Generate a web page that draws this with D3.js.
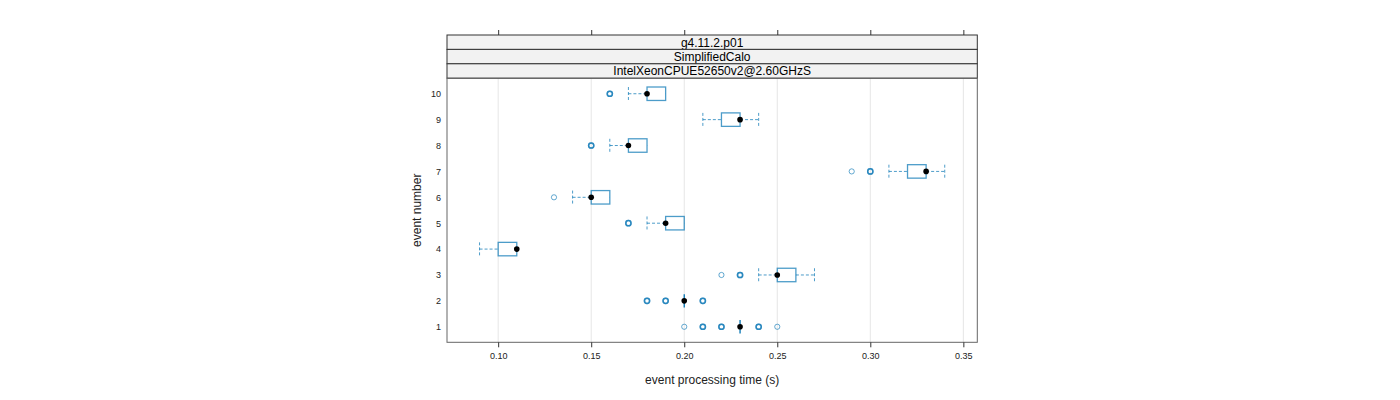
<!DOCTYPE html>
<html><head><meta charset="utf-8">
<script src="https://cdn.jsdelivr.net/npm/d3@7"></script>
<style>body{margin:0;background:#fff;} svg{display:block;font-family:"Liberation Sans",Arial,sans-serif;}</style>
</head><body><svg id="c" width="1400" height="400"></svg>
<script>
const events = [1,2,3,4,5,6,7,8,9,10];
const lowerWhisker = [0.23,0.20,0.24,0.09,0.18,0.14,0.31,0.16,0.21,0.17];
const q1 =           [0.23,0.20,0.25,0.10,0.19,0.15,0.32,0.17,0.22,0.18];
const medians =      [0.23,0.20,0.25,0.11,0.19,0.15,0.33,0.17,0.23,0.18];
const q3 =           [0.23,0.20,0.26,0.11,0.20,0.16,0.33,0.18,0.23,0.19];
const upperWhisker = [0.23,0.20,0.27,0.11,0.20,0.16,0.34,0.18,0.24,0.19];
// outliers: [value, number of overlapping observations]
const outliers = [
  [[0.20,1],[0.21,2],[0.22,2],[0.24,2],[0.25,1]],
  [[0.18,2],[0.19,2],[0.21,2]],
  [[0.22,1],[0.23,2]],
  [],
  [[0.17,2]],
  [[0.13,1]],
  [[0.29,1],[0.30,2]],
  [[0.15,2]],
  [],
  [[0.16,2]]
];
const xTicks = [0.10,0.15,0.20,0.25,0.30,0.35];
const stripLabels = ["g4.11.2.p01","SimplifiedCalo","IntelXeonCPUE52650v2@2.60GHzS"];
const xTitle = "event processing time (s)";
const yTitle = "event number";

const svg = d3.select("#c");
const L = 447, R = 977.3, T = 78.2, B = 342.3, stripTop = 35;
const stripH = (T - stripTop) / stripLabels.length;
const x = d3.scaleLinear().domain([0.0725, 0.3575]).range([L, R]);
const y = d3.scaleLinear().domain([0.4, 10.6]).range([B, T]);
const unit = (B - T) / 10.2;
const bh = unit * 0.52;
const col = "#0072B2";

// grid
svg.append("g").selectAll("line").data(xTicks).join("line")
  .attr("x1", d => x(d)).attr("x2", d => x(d)).attr("y1", T).attr("y2", B)
  .attr("stroke", "#e6e6e6").attr("stroke-width", 1);

// strips
stripLabels.forEach((s, i) => {
  const yy = stripTop + i * stripH;
  svg.append("rect").attr("x", L).attr("y", yy).attr("width", R - L).attr("height", stripH)
    .attr("fill", "#f2f2f2").attr("stroke", "#333").attr("stroke-width", 1);
  svg.append("text").attr("x", (L + R) / 2).attr("y", yy + stripH / 2 + 4.3)
    .attr("text-anchor", "middle").attr("font-size", 12).attr("fill", "#000").text(s);
});

// panel border
svg.append("rect").attr("x", L).attr("y", T).attr("width", R - L).attr("height", B - T)
  .attr("fill", "none").attr("stroke", "#666").attr("stroke-width", 1);

// bottom axis
const bx = d3.axisBottom(x).tickValues(xTicks).tickFormat(d3.format(".2f")).tickSize(5).tickPadding(5);
const gb = svg.append("g").attr("transform", `translate(0,${B})`).call(bx);
gb.select(".domain").remove();
gb.selectAll("line").attr("stroke", "#333");
gb.selectAll("text").attr("font-size", 9).attr("fill", "#222").attr("font-family", "Liberation Sans, Arial, sans-serif");

// top ticks
const tx = d3.axisTop(x).tickValues(xTicks).tickFormat("").tickSize(5);
const gt = svg.append("g").attr("transform", `translate(0,${stripTop})`).call(tx);
gt.select(".domain").remove();
gt.selectAll("line").attr("stroke", "#333");

// left labels
const ly = d3.axisLeft(y).tickValues(events).tickFormat(d3.format("d")).tickSize(0).tickPadding(5);
const gl = svg.append("g").attr("transform", `translate(${L - 1},0)`).call(ly);
gl.select(".domain").remove();
gl.selectAll("text").attr("font-size", 9).attr("fill", "#222").attr("font-family", "Liberation Sans, Arial, sans-serif");

// titles
svg.append("text").attr("x", (L + R) / 2).attr("y", 384).attr("text-anchor", "middle")
  .attr("font-size", 12).attr("fill", "#222").text(xTitle);
svg.append("text").attr("transform", `translate(421,${(T + B) / 2}) rotate(-90)`)
  .attr("text-anchor", "middle").attr("font-size", 12).attr("fill", "#222").text(yTitle);

// boxes
const g = svg.append("g");
events.forEach((e, i) => {
  const cy = y(e);
  // whiskers
  g.append("line").attr("x1", x(lowerWhisker[i])).attr("x2", x(q1[i])).attr("y1", cy).attr("y2", cy)
    .attr("stroke", col).attr("stroke-opacity", 0.7).attr("stroke-dasharray", "3,2");
  g.append("line").attr("x1", x(q3[i])).attr("x2", x(upperWhisker[i])).attr("y1", cy).attr("y2", cy)
    .attr("stroke", col).attr("stroke-opacity", 0.7).attr("stroke-dasharray", "3,2");
  [lowerWhisker[i], upperWhisker[i]].forEach(w => {
    if (w !== q1[i] && w !== q3[i]) {
      g.append("line").attr("x1", x(w)).attr("x2", x(w)).attr("y1", cy - bh / 2).attr("y2", cy + bh / 2)
        .attr("stroke", col).attr("stroke-opacity", 0.7).attr("stroke-dasharray", "3,2");
    }
  });
  if (q3[i] > q1[i]) {
    g.append("rect").attr("x", x(q1[i])).attr("y", cy - bh / 2).attr("width", x(q3[i]) - x(q1[i])).attr("height", bh)
      .attr("fill", "none").attr("stroke", col).attr("stroke-opacity", 0.7).attr("stroke-width", 1.3);
  } else {
    g.append("line").attr("x1", x(q1[i])).attr("x2", x(q1[i])).attr("y1", cy - bh / 2).attr("y2", cy + bh / 2)
      .attr("stroke", col).attr("stroke-width", 1.3);
  }
  outliers[i].forEach(([v, n]) => {
    for (let k = 0; k < n; k++) {
      g.append("circle").attr("cx", x(v)).attr("cy", cy).attr("r", 2.6)
        .attr("fill", "none").attr("stroke", col).attr("stroke-opacity", 0.6).attr("stroke-width", n > 1 ? 1.5 : 1);
    }
  });
  g.append("circle").attr("cx", x(medians[i])).attr("cy", cy).attr("r", 2.8).attr("fill", "#000");
});
</script></body></html>
